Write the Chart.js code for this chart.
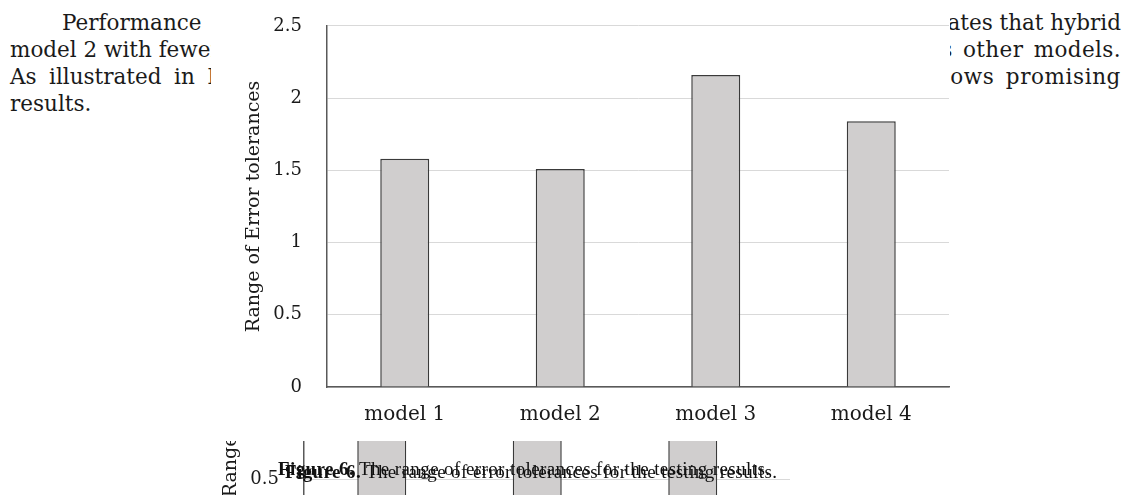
<!DOCTYPE html>
<html>
<head>
<meta charset="utf-8">
<script src="https://cdn.jsdelivr.net/npm/chart.js@4.4.1/dist/chart.umd.min.js"></script>
<style>
  html, body { margin: 0; padding: 0; background: #fff; }
  body { width: 1132px; height: 495px; position: relative; overflow: hidden; }
  .clip { position: absolute; overflow: hidden; }
  .para { position: absolute; font-family: 'DejaVu Serif', serif; font-size: 21.5px; line-height: 26px; color: #1a1a1a; white-space: nowrap; }
  .cap { position: absolute; font-family: 'Liberation Serif', serif; font-size: 19px; letter-spacing: 0.4px; color: #111; white-space: nowrap; }
  canvas { position: absolute; }
</style>
</head>
<body>
<!-- body text around the figure -->
<div class="clip" style="left:0;top:0;width:211px;height:140px;">
  <div class="para" style="left:62px;top:10px;">Performance</div>
  <div class="para" style="left:10px;top:37px;">model 2 with fewer errors</div>
  <div class="para" style="left:10px;top:64px;word-spacing:5.7px;">As illustrated in Figure 6</div>
  <div class="para" style="left:10px;top:91px;">results.</div>
</div>
<div class="clip" style="left:950px;top:0;width:182px;height:140px;">
  <div class="para" style="right:11px;top:10px;">indicates that hybrid</div>
  <div class="para" style="right:11px;top:37px;word-spacing:3px;letter-spacing:0.4px;">as other models.</div>
  <div class="para" style="right:11px;top:64px;word-spacing:4px;letter-spacing:0.6px;">shows promising</div>
</div>

<canvas id="main" width="745" height="440" style="left:210px;top:0;"></canvas>

<!-- offset echo of the plot below the figure -->
<div class="clip" style="left:0;top:441px;width:790px;height:54px;">
  <canvas id="echo" width="745" height="440" style="left:187px;top:-276px;"></canvas>
</div>

<div class="cap" style="left:278px;top:458px;"><b>Figure 6.</b> The range of error tolerances for the testing results.</div>
<div class="cap" style="left:285px;top:461px;"><b>Figure 6.</b> The range of error tolerances for the testing results.</div>

<script>
// categories and values
const models = ['model 1', 'model 2', 'model 3', 'model 4'];
const errorRange = [1.58, 1.51, 2.16, 1.84];
const yTickLabels = ['0', '0.5', '1', '1.5', '2', '2.5'];
const yTitle = 'Range of Error tolerances';

const serif = "'DejaVu Serif', 'Liberation Serif', serif";

function buildConfig() {
  return {
    type: 'bar',
    data: {
      labels: models,
      datasets: [{
        data: errorRange,
        backgroundColor: '#d0cece',
        borderColor: '#3a3a3a',
        borderWidth: 1.5,
        categoryPercentage: 1,
        barPercentage: 0.315
      }]
    },
    options: {
      responsive: false,
      animation: false,
      events: [],
      layout: { padding: { top: 0, right: 6, bottom: 0, left: 0 } },
      plugins: { legend: { display: false }, tooltip: { enabled: false } },
      scales: {
        x: {
          grid: { display: false, drawTicks: false },
          border: { display: true, color: '#595959', width: 1.5 },
          ticks: { color: '#1a1a1a', font: { family: serif, size: 20 }, padding: 16 },
          afterFit: (s) => { s.height = 53; }
        },
        y: {
          min: 0, max: 2.5,
          grid: { color: '#d9d9d9', lineWidth: 1, drawTicks: false },
          border: { display: true, color: '#595959', width: 1.5 },
          ticks: {
            stepSize: 0.5,
            color: '#1a1a1a',
            // tight line height keeps the top of the plot close to the canvas edge
            font: { family: serif, size: 18, lineHeight: 0.1 },
            padding: 25,
            callback: (v, i) => yTickLabels[i]
          },
          title: {
            display: true, text: yTitle, color: '#1a1a1a',
            font: { family: serif, size: 19 },
            padding: { top: 33, bottom: 0 }
          },
          afterFit: (s) => { s.width = 117; }
        }
      }
    }
  };
}

new Chart(document.getElementById('main'), buildConfig());
new Chart(document.getElementById('echo'), buildConfig());
</script>
</body>
</html>
